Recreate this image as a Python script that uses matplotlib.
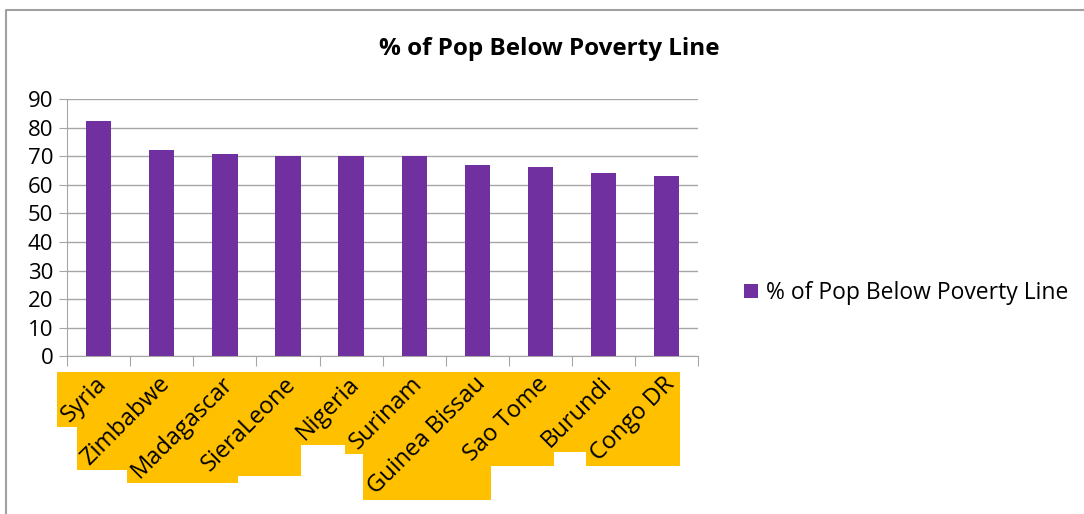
import matplotlib.pyplot as plt
from matplotlib.patches import Rectangle
from matplotlib.lines import Line2D

# data
countries = ['Syria', 'Zimbabwe', 'Madagascar', 'SieraLeone', 'Nigeria',
             'Surinam', 'Guinea Bissau', 'Sao Tome', 'Burundi', 'Congo DR']
pct = [82.5, 72.2, 70.7, 70.1, 70.0, 70.0, 67.0, 66.2, 64.0, 63.0]
yticks = [0, 10, 20, 30, 40, 50, 60, 70, 80, 90]
series_name = '% of Pop Below Poverty Line'

plt.rcParams['font.family'] = ['Open Sans', 'DejaVu Sans']
bar_col = '#7030A0'
grid_col = '#A6A6A6'

fig = plt.figure(figsize=(10.84, 5.14), dpi=100)
ax = fig.add_axes([0.062, 0.307, 0.582, 0.5])

x = list(range(len(countries)))
ax.bar(x, pct, width=0.4, color=bar_col, label=series_name, zorder=3)

ax.set_xlim(-0.5, len(countries) - 0.5)
ax.set_ylim(0, 90)
ax.set_yticks(yticks)
ax.tick_params(axis='y', labelsize=16, length=6, color=grid_col, pad=4)
ax.yaxis.grid(True, color=grid_col, linewidth=1, zorder=0)

# ticks between categories
ax.set_xticks([i - 0.5 for i in range(len(countries) + 1)])
ax.set_xticklabels([])
ax.tick_params(axis='x', length=7, color=grid_col)
for s in ['top', 'right']:
    ax.spines[s].set_visible(False)
ax.spines['left'].set_color(grid_col)
ax.spines['bottom'].set_color(grid_col)

# rotated category labels with yellow boxes behind
labels = []
for i, c in enumerate(countries):
    t = ax.text(i + 0.21, -5.6, c, rotation=45, ha='right', va='top',
                fontsize=17, zorder=6, clip_on=False)
    labels.append(t)

fig.canvas.draw()
r = fig.canvas.get_renderer()
for t in labels:
    bb = t.get_window_extent(r)
    ax.add_patch(Rectangle((bb.x0, bb.y0), bb.width, bb.height,
                           facecolor='#FFC000', edgecolor='none',
                           transform=None, zorder=5, clip_on=False))

fig.text(0.507, 0.905, '% of Pop Below Poverty Line', fontsize=17.5,
         fontweight='bold', ha='center', va='center')

ax.legend(loc='center left', bbox_to_anchor=(1.04, 0.245), frameon=False,
          fontsize=16.5, handlelength=0.6, handleheight=0.6, handletextpad=0.35)

# chart border (top and left only visible)
fig.lines.append(Line2D([0.0055, 0.0055, 1.0], [0.0, 0.9805, 0.9805],
                        transform=fig.transFigure, color='#A0A0A0', linewidth=1.5))

fig.savefig('out.png', dpi=100)
